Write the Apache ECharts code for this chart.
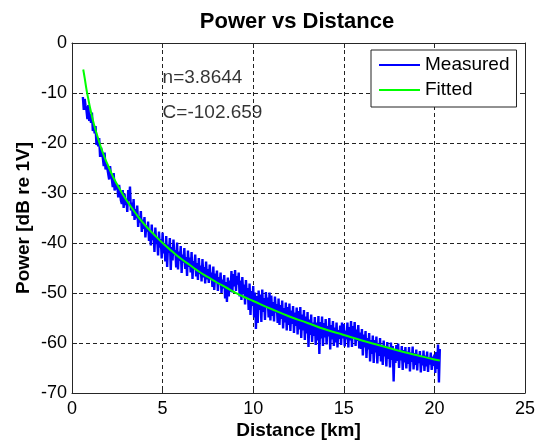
<!DOCTYPE html>
<html>
<head>
<meta charset="utf-8">
<script src="https://cdn.jsdelivr.net/npm/echarts@6/dist/echarts.min.js"></script>
<style>
html,body{margin:0;padding:0;background:#fff;}
#chart{width:545px;height:440px;}
</style>
</head>
<body>
<div id="chart"></div>
<script>
// ---- data ----
var titleText = 'Power vs Distance';
var xAxisName = 'Distance [km]';
var yAxisName = 'Power [dB re 1V]';
var seriesNames = ['Measured', 'Fitted'];
var xTicks = [0, 5, 10, 15, 20, 25];
var yTicks = [-70, -60, -50, -40, -30, -20, -10, 0];
var annotationText = ['n=3.8644', 'C=-102.659'];
var annotationX = [5, 5];
var annotationY = [-7, -14];

var measuredDist = [
  0.60,0.65,0.70,0.75,0.80,0.85,0.90,0.95,
  1.00,1.05,1.10,1.15,1.20,1.25,1.30,1.35,1.40,1.45,
  1.50,1.55,1.60,1.65,1.70,1.75,1.80,1.85,1.90,1.95,
  2.00,2.05,2.10,2.15,2.20,2.25,2.30,2.35,2.40,2.45,
  2.50,2.55,2.60,2.65,2.70,2.75,2.80,2.85,2.90,2.95,
  3.00,3.05,3.10,3.15,3.20,3.25,3.30,3.35,3.40,3.45,
  3.50,3.55,3.60,3.65,3.70,3.75,3.80,3.85,3.90,3.95,
  4.00,4.05,4.10,4.15,4.20,4.25,4.30,4.35,4.40,4.45,
  4.50,4.55,4.60,4.65,4.70,4.75,4.80,4.85,4.90,4.95,
  5.00,5.05,5.10,5.15,5.20,5.25,5.30,5.35,5.40,5.45,
  5.50,5.55,5.60,5.65,5.70,5.75,5.80,5.85,5.90,5.95,
  6.00,6.05,6.10,6.15,6.20,6.25,6.30,6.35,6.40,6.45,
  6.50,6.55,6.60,6.65,6.70,6.75,6.80,6.85,6.90,6.95,
  7.00,7.05,7.10,7.15,7.20,7.25,7.30,7.35,7.40,7.45,
  7.50,7.55,7.60,7.65,7.70,7.75,7.80,7.85,7.90,7.95,
  8.00,8.05,8.10,8.15,8.20,8.25,8.30,8.35,8.40,8.45,
  8.50,8.55,8.60,8.65,8.70,8.75,8.80,8.85,8.90,8.95,
  9.00,9.05,9.10,9.15,9.20,9.25,9.30,9.35,9.40,9.45,
  9.50,9.55,9.60,9.65,9.70,9.75,9.80,9.85,9.90,9.95,
  10.00,10.05,10.10,10.15,10.20,10.25,10.30,10.35,10.40,10.45,
  10.50,10.55,10.60,10.65,10.70,10.75,10.80,10.85,10.90,10.95,
  11.00,11.05,11.10,11.15,11.20,11.25,11.30,11.35,11.40,11.45,
  11.50,11.55,11.60,11.65,11.70,11.75,11.80,11.85,11.90,11.95,
  12.00,12.05,12.10,12.15,12.20,12.25,12.30,12.35,12.40,12.45,
  12.50,12.55,12.60,12.65,12.70,12.75,12.80,12.85,12.90,12.95,
  13.00,13.05,13.10,13.15,13.20,13.25,13.30,13.35,13.40,13.45,
  13.50,13.55,13.60,13.65,13.70,13.75,13.80,13.85,13.90,13.95,
  14.00,14.05,14.10,14.15,14.20,14.25,14.30,14.35,14.40,14.45,
  14.50,14.55,14.60,14.65,14.70,14.75,14.80,14.85,14.90,14.95,
  15.00,15.05,15.10,15.15,15.20,15.25,15.30,15.35,15.40,15.45,
  15.50,15.55,15.60,15.65,15.70,15.75,15.80,15.85,15.90,15.95,
  16.00,16.05,16.10,16.15,16.20,16.25,16.30,16.35,16.40,16.45,
  16.50,16.55,16.60,16.65,16.70,16.75,16.80,16.85,16.90,16.95,
  17.00,17.05,17.10,17.15,17.20,17.25,17.30,17.35,17.40,17.45,
  17.50,17.55,17.60,17.65,17.70,17.75,17.80,17.85,17.90,17.95,
  18.00,18.05,18.10,18.15,18.20,18.25,18.30,18.35,18.40,18.45,
  18.50,18.55,18.60,18.65,18.70,18.75,18.80,18.85,18.90,18.95,
  19.00,19.05,19.10,19.15,19.20,19.25,19.30,19.35,19.40,19.45,
  19.50,19.55,19.60,19.65,19.70,19.75,19.80,19.85,19.90,19.95,
  20.00,20.05,20.10,20.15,20.20,20.25,20.30
];
var measuredPower = [
  -10.8,-13.4,-11.2,-12.6,-13.5,-15.2,-12.4,-15.6,
  -14.2,-16.0,-13.9,-17.6,-16.3,-18.1,-16.6,-20.4,-18.9,-20.7,
  -19.0,-22.8,-20.9,-21.8,-22.9,-24.6,-21.9,-25.3,-24.2,-25.1,
  -24.9,-27.3,-24.6,-26.4,-27.2,-28.8,-26.0,-29.5,-27.9,-29.3,
  -28.3,-30.9,-28.4,-29.9,-31.5,-32.2,-29.4,-33.0,-30.1,-32.4,
  -31.3,-33.8,-29.4,-31.6,-28.7,-33.5,-31.9,-34.6,-31.2,-35.4,
  -33.2,-35.1,-32.5,-36.8,-34.6,-35.9,-33.6,-37.8,-35.3,-37.2,
  -34.8,-38.9,-36.5,-37.7,-35.7,-39.6,-37.4,-40.5,-36.3,-39.4,
  -38.0,-41.8,-36.9,-40.2,-39.1,-42.5,-37.7,-40.9,-39.2,-43.1,
  -37.9,-42.1,-40.2,-43.7,-38.6,-44.8,-40.3,-41.9,-39.0,-45.4,
  -40.8,-43.5,-39.3,-42.4,-41.4,-44.9,-39.9,-45.3,-41.7,-43.6,
  -40.6,-46.0,-42.3,-43.9,-41.0,-45.2,-42.8,-46.6,-41.5,-44.8,
  -42.9,-45.9,-41.8,-47.2,-43.6,-45.0,-42.3,-46.7,-44.0,-47.4,
  -43.0,-46.2,-44.5,-47.7,-43.2,-46.9,-44.8,-48.1,-43.7,-47.3,
  -45.2,-48.0,-44.3,-47.1,-45.9,-48.8,-44.7,-49.4,-46.1,-47.8,
  -45.5,-49.6,-46.8,-48.3,-45.9,-50.0,-47.3,-49.1,-46.4,-51.1,
  -47.8,-51.8,-46.9,-50.7,-47.5,-49.8,-45.6,-49.9,-46.2,-48.7,
  -45.4,-49.6,-46.6,-48.3,-45.9,-50.7,-47.5,-51.4,-46.8,-50.1,
  -48.3,-52.3,-47.4,-50.9,-49.0,-53.4,-48.1,-54.4,-49.6,-52.6,
  -48.6,-54.9,-49.9,-57.2,-50.6,-56.0,-49.5,-53.4,-50.3,-55.8,
  -49.3,-53.8,-51.0,-55.4,-49.8,-52.9,-50.9,-54.9,-49.9,-55.5,
  -50.5,-54.6,-51.8,-55.7,-50.7,-53.9,-52.2,-56.0,-51.1,-56.4,
  -52.4,-55.2,-51.5,-57.1,-53.0,-55.9,-51.9,-57.5,-52.8,-56.4,
  -52.1,-57.6,-53.5,-56.2,-52.6,-58.0,-53.9,-56.6,-52.9,-58.3,
  -53.6,-57.3,-52.8,-59.0,-54.3,-57.5,-53.4,-59.4,-54.7,-58.1,
  -53.8,-60.8,-55.3,-58.4,-54.3,-59.8,-55.9,-58.6,-54.8,-60.4,
  -55.9,-59.5,-54.6,-62.2,-55.8,-59.1,-54.7,-60.6,-56.0,-58.9,
  -55.2,-60.3,-56.6,-58.7,-55.0,-61.3,-56.4,-59.3,-55.6,-60.6,
  -56.9,-59.9,-55.9,-60.9,-57.4,-59.2,-56.5,-60.4,-55.9,-59.1,
  -56.2,-60.7,-57.5,-59.3,-55.9,-60.9,-56.8,-59.5,-55.6,-60.8,
  -56.6,-59.0,-55.8,-60.6,-57.3,-59.6,-56.4,-61.1,-57.9,-61.2,
  -57.2,-62.5,-58.3,-60.9,-57.6,-63.0,-59.0,-61.3,-58.0,-63.7,
  -59.4,-62.2,-58.5,-64.0,-59.4,-61.9,-58.7,-64.1,-60.0,-62.6,
  -59.0,-63.7,-60.4,-64.4,-59.5,-62.7,-60.9,-64.7,-59.8,-63.2,
  -60.9,-64.9,-59.9,-63.4,-60.6,-67.7,-61.3,-64.0,-60.4,-63.6,
  -60.1,-65.0,-61.6,-63.5,-60.6,-65.4,-61.4,-63.9,-60.8,-65.1,
  -61.7,-64.2,-60.8,-65.7,-61.9,-63.8,-60.7,-65.3,-62.0,-64.4,
  -61.3,-65.5,-62.3,-64.0,-61.6,-65.9,-62.6,-64.5,-61.5,-65.6,
  -62.5,-64.7,-61.7,-65.8,-62.8,-64.3,-61.9,-65.4,-62.7,-64.6,
  -62.3,-66.0,-61.8,-65.2,-60.3,-67.9,-61.2
];

var fittedDist = [0.62,0.7,0.8,0.9,1,1.2,1.4,1.6,1.8,2,2.3,2.6,3,3.5,4,4.5,5,5.5,6,6.5,7,7.5,8,8.5,9,9.5,10,11,12,13,14,15,16,17,18,19,20,20.3];
var fittedPower = [-5.3,-7.0,-9.3,-11.2,-13.0,-16.1,-18.6,-20.9,-22.9,-24.6,-27.0,-29.0,-31.4,-34.0,-36.3,-38.2,-40.0,-41.6,-43.1,-44.4,-45.7,-46.8,-47.9,-48.9,-49.9,-50.8,-51.6,-53.2,-54.7,-56.0,-57.3,-58.4,-59.5,-60.5,-61.5,-62.4,-63.3,-63.5];

// ---- build ----
function zip(a, b) { var r = []; for (var i = 0; i < a.length; i++) r.push([a[i], b[i]]); return r; }
var FONT = '"Liberation Sans", Arial, Helvetica, sans-serif';
var AX = '#262626';

var chart = echarts.init(document.getElementById('chart'), null, {renderer: 'canvas'});
var xMin = xTicks[0], xMax = xTicks[xTicks.length - 1], xInt = xTicks[1] - xTicks[0];
var yMin = yTicks[0], yMax = yTicks[yTicks.length - 1], yInt = yTicks[1] - yTicks[0];

function baseAxis(min, max, interval) {
  return {
    type: 'value', min: min, max: max, interval: interval,
    axisLine: {show: true, onZero: false, lineStyle: {color: AX, width: 1}},
    axisTick: {show: true, inside: true, length: 5, lineStyle: {color: AX}},
    splitLine: {show: false}
  };
}

var xBottom = baseAxis(xMin, xMax, xInt);
xBottom.position = 'bottom';
xBottom.name = xAxisName;
xBottom.nameLocation = 'middle';
xBottom.nameMoveOverlap = false;
xBottom.nameGap = 28;
xBottom.nameTextStyle = {fontFamily: FONT, fontSize: 19, fontWeight: 'bold', color: '#000'};
xBottom.axisLabel = {show: true, fontFamily: FONT, fontSize: 18, color: '#000', margin: 7};
xBottom.splitLine = {show: true, lineStyle: {color: '#222', type: [4, 3], width: 1}};

var xTop = baseAxis(xMin, xMax, xInt);
xTop.position = 'top';
xTop.axisLabel = {show: false};

var yLeft = baseAxis(yMin, yMax, yInt);
yLeft.position = 'left';
yLeft.name = yAxisName;
yLeft.nameLocation = 'middle';
yLeft.nameMoveOverlap = false;
yLeft.nameGap = 39;
yLeft.nameRotate = 90;
yLeft.nameTextStyle = {fontFamily: FONT, fontSize: 19, fontWeight: 'bold', color: '#000'};
yLeft.axisLabel = {show: true, fontFamily: FONT, fontSize: 18, color: '#000', margin: 5};
yLeft.splitLine = {show: true, lineStyle: {color: '#222', type: [4, 3], width: 1}};

var yRight = baseAxis(yMin, yMax, yInt);
yRight.position = 'right';
yRight.axisLabel = {show: false};

var annData = [];
for (var i = 0; i < annotationText.length; i++) {
  annData.push({value: [annotationX[i], annotationY[i]], label: {formatter: annotationText[i]}});
}

var option = {
  animation: false,
  backgroundColor: '#fff',
  title: {
    text: titleText, left: 292, top: 6, textAlign: 'center',
    textStyle: {fontFamily: FONT, fontSize: 22, fontWeight: 'bold', color: '#000'}
  },
  grid: {left: 72, top: 43, width: 453, height: 350, containLabel: false, outerBoundsMode: 'none', show: false},
  legend: {
    data: seriesNames, orient: 'vertical', left: 371, top: 50,
    padding: [5, 7, 7, 8], itemGap: 5, itemWidth: 41, itemHeight: 2, icon: 'rect',
    backgroundColor: '#fff', borderColor: '#222', borderWidth: 1, borderRadius: 0,
    textStyle: {fontFamily: FONT, fontSize: 19, color: '#000', lineHeight: 20}
  },
  xAxis: [xBottom, xTop],
  yAxis: [yLeft, yRight],
  series: [
    {
      name: seriesNames[0], type: 'line', xAxisIndex: 0, yAxisIndex: 0,
      data: zip(measuredDist, measuredPower), showSymbol: false, symbol: 'none',
      lineStyle: {color: '#0000ff', width: 2.4}, itemStyle: {color: '#0000ff'}, z: 3
    },
    {
      name: seriesNames[1], type: 'line', xAxisIndex: 0, yAxisIndex: 0,
      data: zip(fittedDist, fittedPower), showSymbol: false, symbol: 'none', smooth: true,
      lineStyle: {color: '#00ff00', width: 2}, itemStyle: {color: '#00ff00'}, z: 4
    },
    {
      name: 'annotations', type: 'scatter', xAxisIndex: 0, yAxisIndex: 0,
      data: annData, symbolSize: 0, silent: true,
      label: {show: true, position: 'right', distance: 0, fontFamily: FONT, fontSize: 19, color: '#000'},
      z: 5
    }
  ]
};
chart.setOption(option);
</script>
</body>
</html>
